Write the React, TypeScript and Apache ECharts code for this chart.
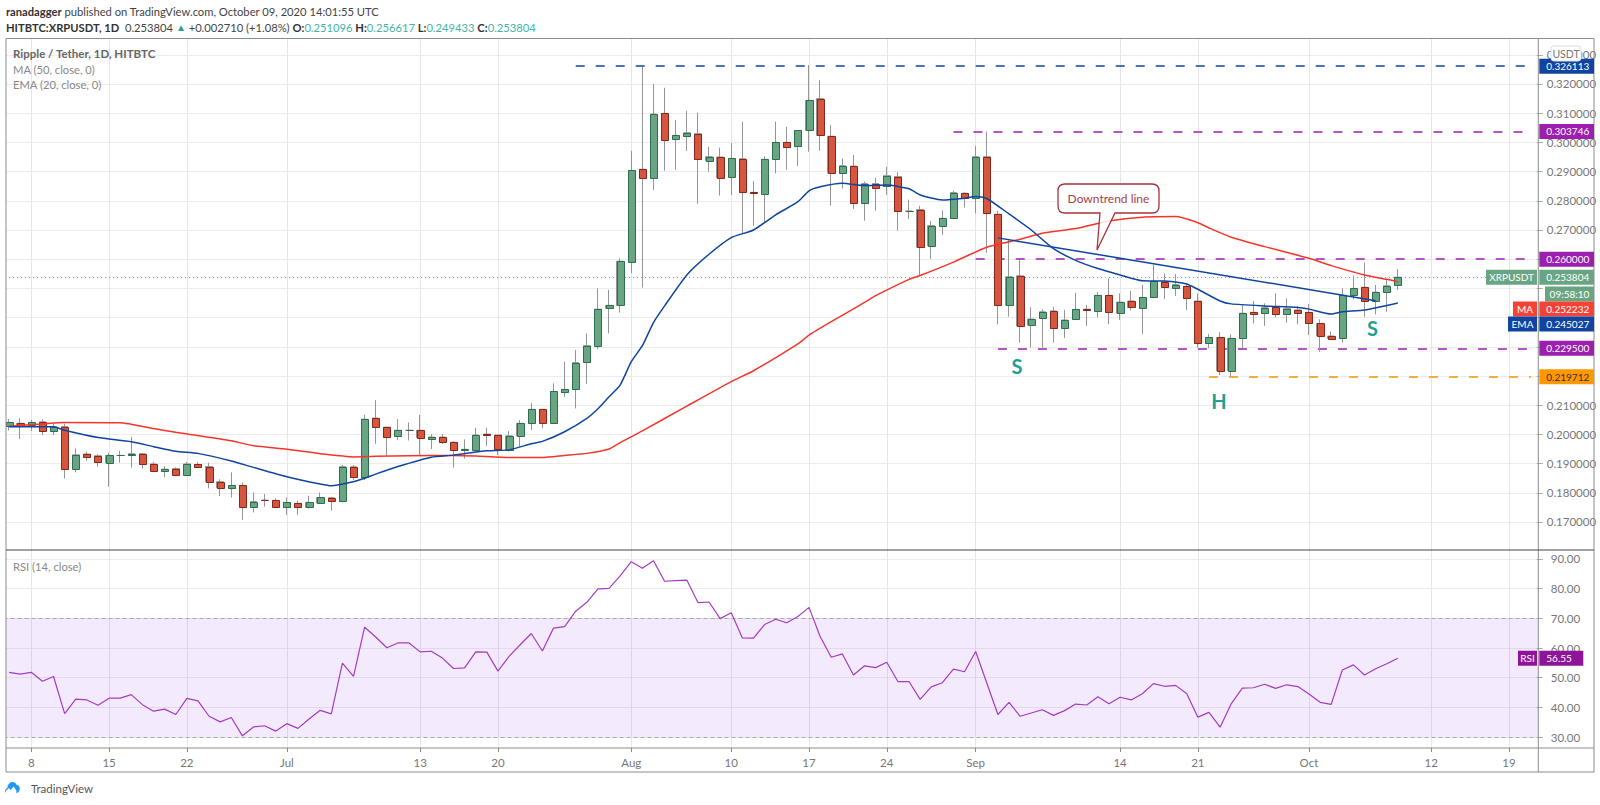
import React, { useEffect, useRef } from "react";
import * as echarts from "echarts";

const opens = [
  .2029,.2038,.2033,.2043,.2012,.2027,.1883,.1933,.1927,.1903,
  .1928,.1928,.1934,.1899,.1875,.1883,.1862,.1897,.1890,.1838,
  .1817,.1825,.1750,.1775,.1774,.1750,.1764,.1750,.1765,.1783,
  .1771,.1889,.1853,.2056,.2025,.1995,.2014,.2014,.1985,.1991,
  .1973,.1945,.1948,.2001,.1998,.1945,.1995,.2038,.2086,.2040,
  .2144,.2154,.2249,.2304,.2432,.2442,.2592,.2908,.2879,.3099,
  .3010,.3021,.3030,.2937,.2950,.2883,.2944,.2829,.2823,.2944,
  .3000,.2987,.3041,.3150,.3021,.2895,.2919,.2791,.2859,.2849,
  .2883,.2764,.2770,.2646,.2715,.2740,.2826,.2808,.2951,.2754,
  .2442,.2543,.2374,.2400,.2423,.2366,.2394,.2429,.2424,.2476,
  .2415,.2457,.2433,.2469,.2523,.2502,.2507,.2457,.2312,.2332,
  .2218,.2329,.2418,.2415,.2435,.2411,.2426,.2418,.2380,.2337,
  .2329,.2476,.2504,.2458,.2488,.251096,
];
const closes = [
  .2041,.2032,.2041,.2012,.2027,.1883,.1930,.1923,.1905,.1928,
  .1928,.1934,.1899,.1875,.1881,.1862,.1899,.1889,.1838,.1817,
  .1825,.1752,.1770,.1774,.1752,.1767,.1750,.1767,.1784,.1771,
  .1890,.1853,.2052,.2025,.1991,.2014,.2014,.1989,.1991,.1973,
  .1945,.1949,.1998,.1998,.1949,.1995,.2038,.2086,.2040,.2147,
  .2154,.2246,.2304,.2429,.2442,.2593,.2904,.2879,.3097,.3009,
  .3024,.3033,.2942,.2951,.2879,.2945,.2829,.2826,.2942,.3000,
  .2984,.3041,.3144,.3024,.2895,.2920,.2791,.2859,.2845,.2886,
  .2764,.2765,.2641,.2715,.2740,.2828,.2808,.2951,.2757,.2442,
  .2540,.2371,.2395,.2420,.2363,.2392,.2428,.2427,.2476,.2420,
  .2453,.2435,.2469,.2524,.2506,.2513,.2466,.2312,.2332,.2218,
  .2329,.2415,.2413,.2434,.2411,.2431,.2417,.2380,.2338,.2328,
  .2476,.2500,.2458,.2487,.2509,.253804,
];
const lows = [
  .2013,.1984,.2012,.1997,.1997,.1849,.1870,.1910,.1889,.1821,
  .1903,.1886,.1883,.1870,.1853,.1857,.1860,.1887,.1815,.1789,
  .1784,.1707,.1733,.1752,.1752,.1724,.1724,.1746,.1764,.1739,
  .1767,.1844,.1844,.1968,.1926,.1981,.1979,.1926,.1950,.1967,
  .1886,.1917,.1941,.1960,.1929,.1941,.1958,.2015,.2021,.2036,
  .2129,.2089,.2172,.2291,.2346,.2417,.2552,.2503,.2837,.2903,
  .2906,.2971,.2790,.2900,.2818,.2820,.2689,.2714,.2723,.2894,
  .2906,.2919,.2968,.2971,.2783,.2842,.2772,.2732,.2766,.2820,
  .2698,.2738,.2542,.2601,.2683,.2737,.2777,.2757,.2622,.2377,
  .2403,.2314,.2297,.2297,.2314,.2330,.2392,.2371,.2401,.2377,
  .2392,.2424,.2343,.2469,.2463,.2474,.2426,.2297,.2295,.2203,
  .2198,.2295,.2380,.2372,.2400,.2383,.2377,.2340,.2283,.2326,
  .2315,.2463,.2403,.2411,.2420,.249433,
];
const highs = [
  .2053,.2055,.2049,.2052,.2038,.2037,.1952,.1941,.1933,.1937,
  .1944,.1992,.1937,.1906,.1891,.1887,.1906,.1906,.1903,.1846,
  .1870,.1836,.1801,.1796,.1781,.1784,.1773,.1790,.1801,.1786,
  .1895,.1895,.2067,.2118,.2026,.2052,.2041,.2067,.2001,.2001,
  .1976,.1983,.2023,.2023,.1998,.2011,.2049,.2107,.2086,.2175,
  .2249,.2289,.2346,.2500,.2495,.2603,.2971,.3258,.3200,.3187,
  .3077,.3108,.3102,.2985,.2982,.2998,.3071,.2868,.2953,.3071,
  .3053,.3041,.3265,.3213,.3060,.2945,.2957,.2866,.2879,.2917,
  .2898,.2804,.2782,.2731,.2768,.2835,.2829,.2988,.3037,.2766,
  .2666,.2597,.2435,.2428,.2437,.2426,.2485,.2443,.2488,.2534,
  .2483,.2491,.2512,.2580,.2551,.2549,.2517,.2483,.2344,.2350,
  .2343,.2443,.2457,.2449,.2483,.2466,.2440,.2447,.2394,.2352,
  .2500,.2544,.2589,.2512,.2529,.256617,
];

// Moving averages at the day index given first.
const ma50: [number, number][] = [
  [0,.2028],[3,.2036],[5,.2041],[10,.2040],[13,.2020],[15,.2007],[20,.1978],[22,.1961],[25,.1949],[28,.1934],
  [31,.1923],[33,.1925],[36,.1927],[40,.1928],[42,.1926],[45,.1921],[48,.1921],[50,.1928],[52,.1935],[54,.1950],
  [55,.1972],[57,.2012],[61,.2097],[65,.2181],[67,.2218],[71,.2310],[72,.2340],[74,.2386],[77,.2452],[78,.2475],
  [81,.2531],[82,.2544],[85,.2590],[88,.2641],[91,.2668],[93,.2689],[96,.2705],[99,.2731],[102,.2744],[105,.2746],
  [107,.2725],[108,.2707],[110,.2675],[113,.2643],[117,.2603],[119,.2578],[122,.2546],[124,.2531],[125,.252232],
];
const ema20: [number, number][] = [
  [0,.2026],[4,.2026],[5,.2014],[8,.1989],[11,.1975],[13,.1958],[15,.1942],[17,.1935],[20,.1909],[22,.1887],
  [25,.1855],[28,.1830],[29,.1824],[31,.1838],[32,.1850],[33,.1864],[35,.1890],[38,.1922],[40,.1929],[43,.1944],
  [45,.1947],[47,.1968],[48,.1976],[50,.2009],[52,.2055],[53,.2088],[54,.2129],[55,.2169],[56,.2249],[57,.2304],
  [58,.2383],[59,.2440],[61,.2546],[63,.2617],[65,.2674],[67,.2700],[69,.2752],[71,.2797],[72,.2834],[73,.2848],
  [75,.2860],[77,.2852],[79,.2854],[81,.2841],[82,.2820],[84,.2803],[86,.2809],[87,.2815],[88,.2808],[90,.2755],
  [92,.2700],[94,.2636],[96,.2596],[98,.2568],[100,.2546],[102,.2526],[104,.2525],[106,.2515],[107,.2497],[109,.2457],
  [110,.2447],[113,.2440],[116,.2435],[117,.2429],[119,.2412],[120,.2420],[122,.2426],[125,.245027],
];
const rsiValues = [
  51.8,51.2,51.8,48.8,50.4,37.9,42.8,42.5,40.7,43.1,43.1,44.3,40.9,38.7,39.4,37.6,43.0,42.2,37.0,35.1,
  36.6,30.4,33.4,33.8,32.0,34.5,32.9,36.1,39.0,37.8,54.9,50.4,67.0,63.7,60.1,61.7,61.7,58.7,58.9,56.6,
  53.1,53.3,58.7,58.6,52.2,57.2,61.1,64.9,59.0,66.7,67.2,72.4,75.4,79.9,80.1,84.3,89.1,86.9,89.4,82.5,
  82.7,82.9,75.3,75.5,69.9,71.9,63.4,63.3,67.9,69.7,68.5,70.6,73.7,63.9,56.9,58.0,50.9,54.0,53.4,55.2,
  48.7,48.7,42.7,46.9,48.3,52.9,52.0,58.8,48.2,37.6,41.7,37.0,38.1,39.2,37.3,38.9,41.1,40.8,43.6,41.2,
  43.4,42.5,44.6,48.0,47.1,47.4,44.6,36.7,38.3,33.3,41.2,46.5,46.6,47.8,46.4,47.6,47.0,44.5,41.7,41.0,
  52.6,54.3,50.9,53.0,54.7,56.55,
];

const priceTicks = [.17,.18,.19,.20,.21,.22,.23,.24,.25,.26,.27,.28,.29,.30,.31,.32,.33];
const priceLabels = [.17,.18,.19,.20,.21,.27,.28,.29,.30,.31,.32,.33];
const rsiTicks = [30,40,50,60,70,80,90];
const rsiLabels = [30,40,50,60,70,80,90];
const tickIndex = [2,9,16,25,37,44,56,65,72,79,87,100,107,117,128,135];
const tickLabels = ["8","15","22","Jul","13","20","Aug","10","17","24","Sep","14","21","Oct","12","19"];

const levelValues = [0.326113, 0.303746, 0.26, 0.2295, 0.219712];
const levelStarts = [51, 85, 87, 89, 108];
const levelNames = ["0.326113", "0.303746", "0.260000", "0.229500", "0.219712"];
const levelColors = ["#0f45a0", "#9c1fb0", "#9c1fb0", "#9c1fb0", "#ff9800"];
const trendLine = [[89, 0.2673], [123, 0.2458]];

const lastPrice = 0.253804;
const rsiLast = 56.55;
const dayCount = 138;

const FONT = "Lato, 'Open Sans', sans-serif";
const DAY = 11.11;
const G_LEFT = 3.55;
const G_WIDTH = DAY * dayCount;
const AXIS_X = 1538.3;
const RIGHT = 1594;
const GREEN = "#6aa583";
const RED = "#d5553f";
const TEAL = "#1ea193";

const categories: string[] = [];
for (let i = 0; i < dayCount; i++) {
  const d = new Date(Date.UTC(2020, 5, 6 + i));
  categories.push(d.toISOString().slice(5, 10));
}
const tickSet = new Set(tickIndex);
const labelOf = (i: number) => tickLabels[tickIndex.indexOf(i)] ?? "";
const tickFilter = (i: number) => tickSet.has(i);

echarts.graphic.registerShape(
  "callout",
  echarts.graphic.extendPath(
    "M1065 184 H1152 Q1159 184 1159 191 V206 Q1159 213 1152 213 H1115 L1097 250 L1100 213 H1065 Q1058 213 1058 206 V191 Q1058 184 1065 184 Z",
    {}
  )
);
echarts.graphic.registerShape(
  "tvcloud",
  echarts.graphic.extendPath(
    "M1 12 C-0.5 10 0 7.5 2.5 7 C3 3.5 5 1 8 1 C10 1 11.5 2 12.3 4 C14.5 4 15.5 5.5 15.5 7.5 C15.5 10 14 12 12 12 L12 9.5 L9 5.5 L6 9 L4 7 L1 10 Z",
    {}
  )
);

const renderBody = (params: any, api: any) => {
  const i = api.value(0);
  const o = api.value(1);
  const c = api.value(2);
  const top = api.coord([i, Math.max(o, c)]);
  const bottom = api.coord([i, Math.min(o, c)]);
  const up = c >= o;
  const x = Math.round(top[0] - 3.5) + 0.5;
  const y = Math.round(top[1]) + 0.5;
  const h = Math.max(0, Math.round(bottom[1]) + 0.5 - y);
  return {
    type: "rect",
    shape: { x, y, width: 7, height: h },
    style: { fill: up ? GREEN : RED, stroke: up ? "#2c6f4e" : "#86281c", lineWidth: 1 },
    silent: true,
  };
};

export default function App() {
  const ref = useRef<HTMLDivElement>(null);
  useEffect(() => {
    const chart = echarts.init(ref.current!, undefined, { renderer: "svg" });
    const candleData = opens.map((o, i) => [o, closes[i], lows[i], highs[i]]);
    const bodyData = opens.map((o, i) => [i, o, closes[i]]);
    const vertical = { show: true, interval: tickFilter, alignWithLabel: true, lineStyle: { color: "#e6e6e6", width: 1 } };
    const horizontal = { show: true, lineStyle: { color: "#ececec", width: 1 } };
    const levelLines = levelValues.map((v, i) => [
      { coord: [levelStarts[i], v], lineStyle: { color: levelColors[i], width: 1.5, type: [9, 11] } },
      { coord: [136.7, v] },
    ]);
    chart.setOption({
      animation: false,
      backgroundColor: "#ffffff",
      textStyle: { fontFamily: FONT },
      grid: [
        { left: G_LEFT, width: G_WIDTH, top: 39, height: 511 },
        { left: G_LEFT, width: G_WIDTH, top: 550, height: 198 },
      ],
      xAxis: [
        {
          type: "category", gridIndex: 0, data: categories, boundaryGap: true,
          axisLine: { show: false }, axisTick: { show: false, alignWithLabel: true, interval: tickFilter },
          axisLabel: { show: false, interval: tickFilter }, splitLine: vertical,
        },
        {
          type: "category", gridIndex: 1, data: categories, boundaryGap: true,
          axisLine: { show: false },
          axisTick: { show: true, alignWithLabel: true, interval: tickFilter, length: 4, lineStyle: { color: "#888" } },
          axisLabel: {
            show: true, interval: tickFilter, formatter: (_: string, i: number) => labelOf(i),
            color: "#777", fontSize: 11.5, fontFamily: FONT, margin: 8,
          },
          splitLine: vertical,
        },
      ],
      yAxis: [
        {
          type: "value", gridIndex: 0, position: "right", min: 0.16041, max: 0.33541, scale: true,
          axisLine: { show: false },
          axisTick: { show: true, length: 6, lineStyle: { color: "#aaa" }, customValues: priceTicks },
          axisLabel: {
            show: true, customValues: priceLabels, formatter: (v: number) => v.toFixed(6),
            color: "#777", fontSize: 11.5, fontFamily: FONT, margin: 10,
          },
          splitLine: horizontal,
        },
        {
          type: "value", gridIndex: 1, position: "right", min: 26.3, max: 93.03,
          axisLine: { show: false },
          axisTick: { show: true, length: 6, lineStyle: { color: "#aaa" }, customValues: rsiTicks },
          axisLabel: {
            show: true, customValues: rsiLabels, formatter: (v: number) => v.toFixed(2),
            color: "#777", fontSize: 11.5, fontFamily: FONT, margin: 14,
          },
          splitLine: horizontal,
        },
      ],
      series: [
        {
          type: "candlestick", name: "XRPUSDT", xAxisIndex: 0, yAxisIndex: 0, data: candleData, barWidth: 7, z: 3,
          itemStyle: { color: GREEN, color0: RED, borderColor: "#959595", borderColor0: "#959595", borderColorDoji: "#959595", borderWidth: 1 },
          markLine: {
            silent: true, symbol: "none", animation: false, label: { show: false }, z: 2,
            data: [
              ...levelLines,
              [
                { coord: [0, lastPrice], lineStyle: { color: GREEN, width: 1, type: [1, 3] } },
                { coord: [133, lastPrice] },
              ],
            ],
          },
        },
        {
          type: "custom", name: "bodies", xAxisIndex: 0, yAxisIndex: 0, data: bodyData, z: 4, silent: true,
          encode: { x: 0, y: [1, 2] }, renderItem: renderBody, clip: false,
        },
        {
          type: "line", name: "MA", xAxisIndex: 0, yAxisIndex: 0, data: ma50, showSymbol: false, symbol: "none", z: 5,
          smooth: 0.2, lineStyle: { color: "#f7342a", width: 1.5 },
        },
        {
          type: "line", name: "EMA", xAxisIndex: 0, yAxisIndex: 0, data: ema20, showSymbol: false, symbol: "none", z: 6,
          smooth: 0.2, lineStyle: { color: "#0f45a0", width: 1.5 },
        },
        {
          type: "line", name: "Downtrend", xAxisIndex: 0, yAxisIndex: 0, data: trendLine, showSymbol: false, symbol: "none", z: 6,
          lineStyle: { color: "#0f45a0", width: 1.5 },
        },
        {
          type: "line", name: "RSI", xAxisIndex: 1, yAxisIndex: 1, data: rsiValues, showSymbol: false, symbol: "none", z: 5,
          lineStyle: { color: "#a43cc0", width: 1.2 },
          markLine: {
            silent: true, symbol: "none", label: { show: false },
            lineStyle: { color: "#aaa", width: 1, type: [4, 3] },
            data: [{ yAxis: 70 }, { yAxis: 30 }],
          },
        },
      ],
    });

    const Z = 100;
    const py = (v: number) => chart.convertToPixel({ yAxisIndex: 0 }, v) as number;
    const ry = (v: number) => chart.convertToPixel({ yAxisIndex: 1 }, v) as number;
    const TAG_H = 15;
    const tag = (x: number, w: number, yc: number, bg: string, label: string, color = "#ffffff", align: "left" | "center" = "left") => [
      { type: "rect", z: Z + 2, silent: true, shape: { x, y: yc - TAG_H / 2, width: w, height: TAG_H }, style: { fill: bg } },
      {
        type: "text", z: Z + 3, silent: true,
        x: align === "left" ? x + 7 : x + w / 2, y: yc,
        style: { text: label, fill: color, font: `400 10px ${FONT}`, textAlign: align, textVerticalAlign: "middle" },
      },
    ];
    const caption = (x: number, y: number, text: string, font: string, fill: string) => ({
      type: "text", z: Z + 3, silent: true, x, y,
      style: { text, font, fill, textVerticalAlign: "middle" },
    });
    const hline = (y: number, x1: number, x2: number, stroke: string, lineWidth = 1) => ({
      type: "line", z: Z + 1, silent: true, shape: { x1, y1: y, x2, y2: y }, style: { stroke, lineWidth },
    });
    const vline = (x: number, y1: number, y2: number, stroke: string, lineWidth = 1) => ({
      type: "line", z: Z + 1, silent: true, shape: { x1: x, y1, x2: x, y2 }, style: { stroke, lineWidth },
    });
    const letter = (x: number, y: number, text: string) => ({
      type: "text", z: Z + 2, silent: true, x, y,
      style: { text, font: `700 20px ${FONT}`, fill: TEAL, textAlign: "center", textVerticalAlign: "middle" },
    });

    const SIZE = 11.2;
    const H1 = `400 ${SIZE}px ${FONT}`;
    const richHeader = {
      b: { fontFamily: FONT, fontSize: SIZE, fontWeight: 700, fill: "#333", color: "#333" },
      n: { fontFamily: FONT, fontSize: SIZE, fill: "#444", color: "#444" },
      t: { fontFamily: FONT, fontSize: SIZE, fill: "#3fb5a8", color: "#3fb5a8" },
      a: { fontFamily: FONT, fontSize: 10, fill: "#1ea193", color: "#1ea193" },
    };
    const legendStyle = `400 11.2px ${FONT}`;

    chart.setOption({
      graphic: {
        elements: [
          {
            type: "rect", z: 1, silent: true,
            shape: { x: 6, y: ry(70), width: AXIS_X - 6, height: ry(30) - ry(70) },
            style: { fill: "rgba(149,50,240,0.10)" },
          },
          { type: "rect", z: Z, silent: true, shape: { x: 0, y: 38, width: 6, height: 740 }, style: { fill: "#fff" } },
          hline(38.5, 6, RIGHT, "#8c8c8c"),
          hline(772, 6, RIGHT, "#8c8c8c"),
          vline(6, 38.5, 772, "#8c8c8c"),
          vline(RIGHT, 38.5, 772, "#8c8c8c"),
          vline(AXIS_X, 38.5, 772, "#8c8c8c"),
          hline(550, 6, RIGHT, "#444"),
          hline(748, 6, RIGHT, "#8c8c8c"),

          {
            type: "text", z: Z + 3, silent: true, x: 6, y: 11,
            style: {
              text: "{b|ranadagger}{n| published on TradingView.com, October 09, 2020 14:01:55 UTC}",
              rich: richHeader, font: H1, textVerticalAlign: "middle",
            },
          },
          {
            type: "text", z: Z + 3, silent: true, x: 6, y: 27,
            style: {
              text: "{b|HITBTC:XRPUSDT, 1D}{n|  0.253804 }{a|▲}{n| +0.002710 (+1.08%) }{b|O:}{t|0.251096 }{b|H:}{t|0.256617 }{b|L:}{t|0.249433 }{b|C:}{t|0.253804}",
              rich: richHeader, font: H1, textVerticalAlign: "middle",
            },
          },
          caption(13, 53.5, "Ripple / Tether, 1D, HITBTC", `700 11.5px ${FONT}`, "#666"),
          caption(13, 69, "MA (50, close, 0)", legendStyle, "#888"),
          caption(13, 84, "EMA (20, close, 0)", legendStyle, "#888"),
          caption(13, 566, "RSI (14, close)", legendStyle, "#888"),

          {
            type: "rect", z: Z + 4, silent: true,
            shape: { x: 1551, y: 46, width: 30, height: 15, r: 3 },
            style: { fill: "#fff", stroke: "#ddd", lineWidth: 1 },
          },
          {
            type: "text", z: Z + 5, silent: true, x: 1566, y: 53.5,
            style: { text: "USDT", font: `400 10.5px ${FONT}`, fill: "#777", textAlign: "center", textVerticalAlign: "middle" },
          },

          ...levelValues.flatMap((v, i) =>
            tag(AXIS_X + 1, RIGHT - AXIS_X - 1, py(v), levelColors[i], levelNames[i], i === 4 ? "#333" : "#fff")
          ),
          ...tag(1486, 51, py(lastPrice), GREEN, "XRPUSDT", "#fff", "center"),
          ...tag(AXIS_X + 1, RIGHT - AXIS_X - 1, py(lastPrice), GREEN, lastPrice.toFixed(6)),
          ...tag(1545, RIGHT - 1545, 294, GREEN, "09:58:10", "#fff", "center"),
          ...tag(1513, 24, 309, "#f44336", "MA", "#fff", "center"),
          ...tag(AXIS_X + 1, RIGHT - AXIS_X - 1, 309, "#f44336", "0.252232"),
          ...tag(1508, 29, 324, "#0f45a0", "EMA", "#fff", "center"),
          ...tag(AXIS_X + 1, RIGHT - AXIS_X - 1, 324, "#0f45a0", "0.245027"),
          ...tag(1518, 19, ry(rsiLast), "#8e1599", "RSI", "#fff", "center"),
          ...tag(AXIS_X + 1, 44, ry(rsiLast), "#8e1599", rsiLast.toFixed(2)),

          {
            type: "callout", z: Z + 1, silent: true, x: 0, y: 0,
            style: { fill: "rgba(255,255,255,0.85)", stroke: "#a8323a", lineWidth: 1.3 },
          },
          {
            type: "text", z: Z + 2, silent: true, x: 1108.5, y: 198.5,
            style: { text: "Downtrend line", font: `400 12px ${FONT}`, fill: "#a8424a", textAlign: "center", textVerticalAlign: "middle" },
          },
          letter(1017, 366, "S"),
          letter(1219, 401, "H"),
          letter(1372.5, 328, "S"),

          { type: "tvcloud", z: Z + 2, silent: true, x: 5, y: 781, scaleX: 0.95, scaleY: 1, style: { fill: "#2196f3" } },
          caption(31, 788, "TradingView", `400 11.5px ${FONT}`, "#555"),
        ],
      },
    });
    return () => chart.dispose();
  }, []);
  return <div ref={ref} style={{ position: "absolute", left: 0, top: 0, width: 1600, height: 805 }} />;
}
